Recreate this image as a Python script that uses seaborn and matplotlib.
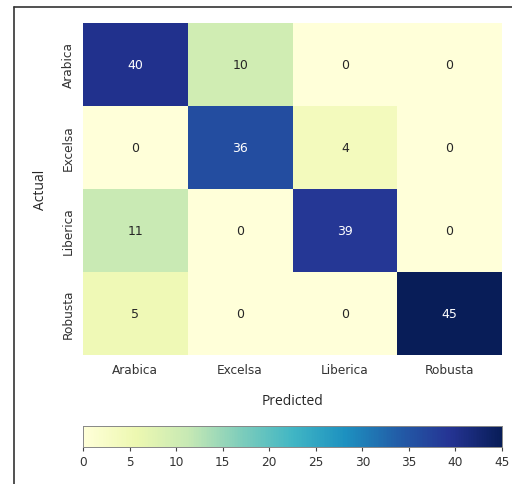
import numpy as np
import pandas as pd
import seaborn as sns
import matplotlib
matplotlib.use("Agg")
import matplotlib.pyplot as plt
from matplotlib.lines import Line2D

classes = ["Arabica", "Excelsa", "Liberica", "Robusta"]
arabica_row = [40, 10, 0, 0]
excelsa_row = [0, 36, 4, 0]
liberica_row = [11, 0, 39, 0]
robusta_row = [5, 0, 0, 45]

cm = pd.DataFrame([arabica_row, excelsa_row, liberica_row, robusta_row],
                  index=classes, columns=classes)

sns.set_style("white")
plt.rcParams["font.family"] = ["DejaVu Sans"]

fig = plt.figure(figsize=(5.12, 4.85), dpi=100)
ax = fig.add_axes([83 / 512, 1 - 356 / 485, 419 / 512, 332 / 485])
cax = fig.add_axes([83 / 512, 1 - 448 / 485, 419 / 512, 21 / 485])

sns.heatmap(cm, annot=True, fmt="d", cmap="YlGnBu", ax=ax, cbar_ax=cax,
            cbar_kws={"orientation": "horizontal"},
            annot_kws={"fontsize": 9})

ax.tick_params(axis="both", length=3, width=0.8, color="#444444",
               labelsize=8.7, labelcolor="#333333", pad=3)
cax.tick_params(axis="x", length=3, width=0.8, color="#444444",
                labelsize=8.7, labelcolor="#333333", pad=2.5)
cax.set_xticks(np.arange(0, 46, 5))
for s in cax.spines.values():
    s.set_visible(True)
    s.set_linewidth(0.6)
    s.set_edgecolor("#888888")

ax.set_xlabel("Predicted", fontsize=10, family="Open Sans", labelpad=12)
ax.set_ylabel("Actual", fontsize=10, family="Open Sans", labelpad=10)

# frame lines along the top and left edges
fig.add_artist(Line2D([13.5 / 512, 1.0], [1 - 7.5 / 485, 1 - 7.5 / 485],
                      transform=fig.transFigure, color="#333333", lw=1.2))
fig.add_artist(Line2D([13.5 / 512, 13.5 / 512], [0, 1 - 7.5 / 485],
                      transform=fig.transFigure, color="#333333", lw=1.2))

fig.savefig("out.png", dpi=100)
